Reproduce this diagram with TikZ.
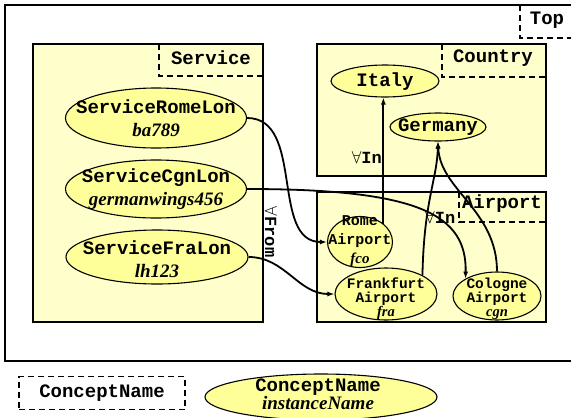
\documentclass[tikz,border=0pt]{standalone}
\usepackage{fontspec}
\setmainfont{Liberation Serif}
\setmonofont{Liberation Mono}
\usetikzlibrary{shapes.geometric,arrows.meta}

\definecolor{conceptfill}{RGB}{255,255,204}
\definecolor{indivfill}{RGB}{255,255,153}

% italic name of an individual
\newcommand{\indname}[1]{{\rmfamily\bfseries\itshape #1}}

\tikzset{
  concept/.style={draw,fill=conceptfill,line width=1.8pt},
  tag/.style={draw,dash pattern=on 6pt off 4pt,line width=1.8pt},
  tagname/.style={inner sep=0pt,font=\fontsize{19}{20}\selectfont\ttfamily\bfseries},
  indiv/.style={ellipse,draw,fill=indivfill,line width=1.1pt,inner sep=0pt},
  indivtext/.style={inner sep=0pt,align=center,font=\fontsize{19}{23}\selectfont\ttfamily\bfseries},
  airtext/.style={inner sep=0pt,align=center,font=\fontsize{14.5}{14}\selectfont\ttfamily\bfseries},
  role/.style={draw,line width=1.8pt,-{Latex[length=7pt,width=5pt]}},
  rolename/.style={inner sep=0pt,font=\fontsize{17}{18}\selectfont\ttfamily\bfseries},
}

\begin{document}
\begin{tikzpicture}[x=1pt,y=-1pt]
  \clip (0,0) rectangle (571,418);

  % Top concept
  \draw[line width=2.6pt] (5,5) rectangle (590,361);
  \draw[tag] (520,5) -- (520,38) -- (575,38);
  \node[tagname] (toptag) at (547,20) {Top};

  % Service, Country and Airport
  \draw[concept] (33,44) rectangle (263,322);
  \draw[tag] (159,44) -- (159,76) -- (263,76);
  \node[tagname] (servicetag) at (211,58) {Service};

  \draw[concept] (317,44) rectangle (546,176);
  \draw[tag] (442,44) -- (442,77) -- (546,77);
  \node[tagname] (countrytag) at (493,58) {Country};

  \draw[concept] (317,192) rectangle (546,322);
  \draw[tag] (459,192) -- (459,222) -- (546,222);
  \node[tagname] (airporttag) at (502,204) {Airport};

  % services
  \node[indiv,minimum width=181pt,minimum height=60pt] (srl) at (156,118) {};
  \node[indivtext] (srl-text) at (156,118) {ServiceRomeLon\\\indname{ba789}};
  \node[indiv,minimum width=181pt,minimum height=58pt] (scl) at (156,189) {};
  \node[indivtext] (scl-text) at (156,189) {ServiceCgnLon\\\indname{germanwings456}};
  \node[indiv,minimum width=182pt,minimum height=54pt] (sfl) at (157,257) {};
  \node[indivtext] (sfl-text) at (157,259) {ServiceFraLon\\\indname{lh123}};

  % countries
  \node[indiv,minimum width=108pt,minimum height=32pt] (italy) at (385,81) {};
  \node[tagname] (italy-text) at (385,82) {Italy};
  \node[indiv,minimum width=96pt,minimum height=28pt] (ger) at (438,127) {};
  \node[tagname] (ger-text) at (438,127) {Germany};

  % airports
  \node[indiv,minimum width=65pt,minimum height=51pt] (rome) at (360,242) {};
  \node[airtext,font=\fontsize{15}{19}\selectfont\ttfamily\bfseries] (rome-text) at (360,241) {Rome\\Airport\\\indname{fco}};
  \node[indiv,minimum width=102pt,minimum height=52pt] (fra) at (386,294) {};
  \node[airtext] (fra-text) at (386,299) {Frankfurt\\Airport\\\indname{fra}};
  \node[indiv,minimum width=88pt,minimum height=48pt] (cgn) at (497,296) {};
  \node[airtext] (cgn-text) at (497,299) {Cologne\\Airport\\\indname{cgn}};

  % from services into airports
  \draw[role] (srl.east) .. controls (305,118) and (270,242) .. (rome.west);
  \draw[role] (scl.east) .. controls (420,189) and (467,215) .. (cgn.north west);
  \draw[role] (sfl.east) to[out=0,in=180] (fra.west);
  \node[rolename,rotate=-90] (fromlbl) at (271,232) {$\forall$From};

  % airports into countries
  \draw[role] (rome.north east) -- (rome.north east |- italy.south);
  \draw[role] (fra.north east) .. controls (424,200) and (437,180) .. (ger.south);
  \draw[role] (cgn.north) .. controls (497,210) and (440,190) .. (ger.south);
  \node[rolename,anchor=east] (inlbl) at (382,157) {$\forall$In};
  \node[rolename,anchor=west] (inlbl2) at (425,217) {$\forall$In};

  % legend
  \node[tag,tagname,minimum width=166pt,minimum height=33pt] (legconcept) at (102,393) {ConceptName};
  \node[indiv,minimum width=232pt,minimum height=46pt] (legindiv) at (321,397) {};
  \node[indivtext,font=\fontsize{19}{18}\selectfont\ttfamily\bfseries] (legindiv-text) at (318,394) {ConceptName\\\indname{instanceName}};
\end{tikzpicture}
\end{document}
